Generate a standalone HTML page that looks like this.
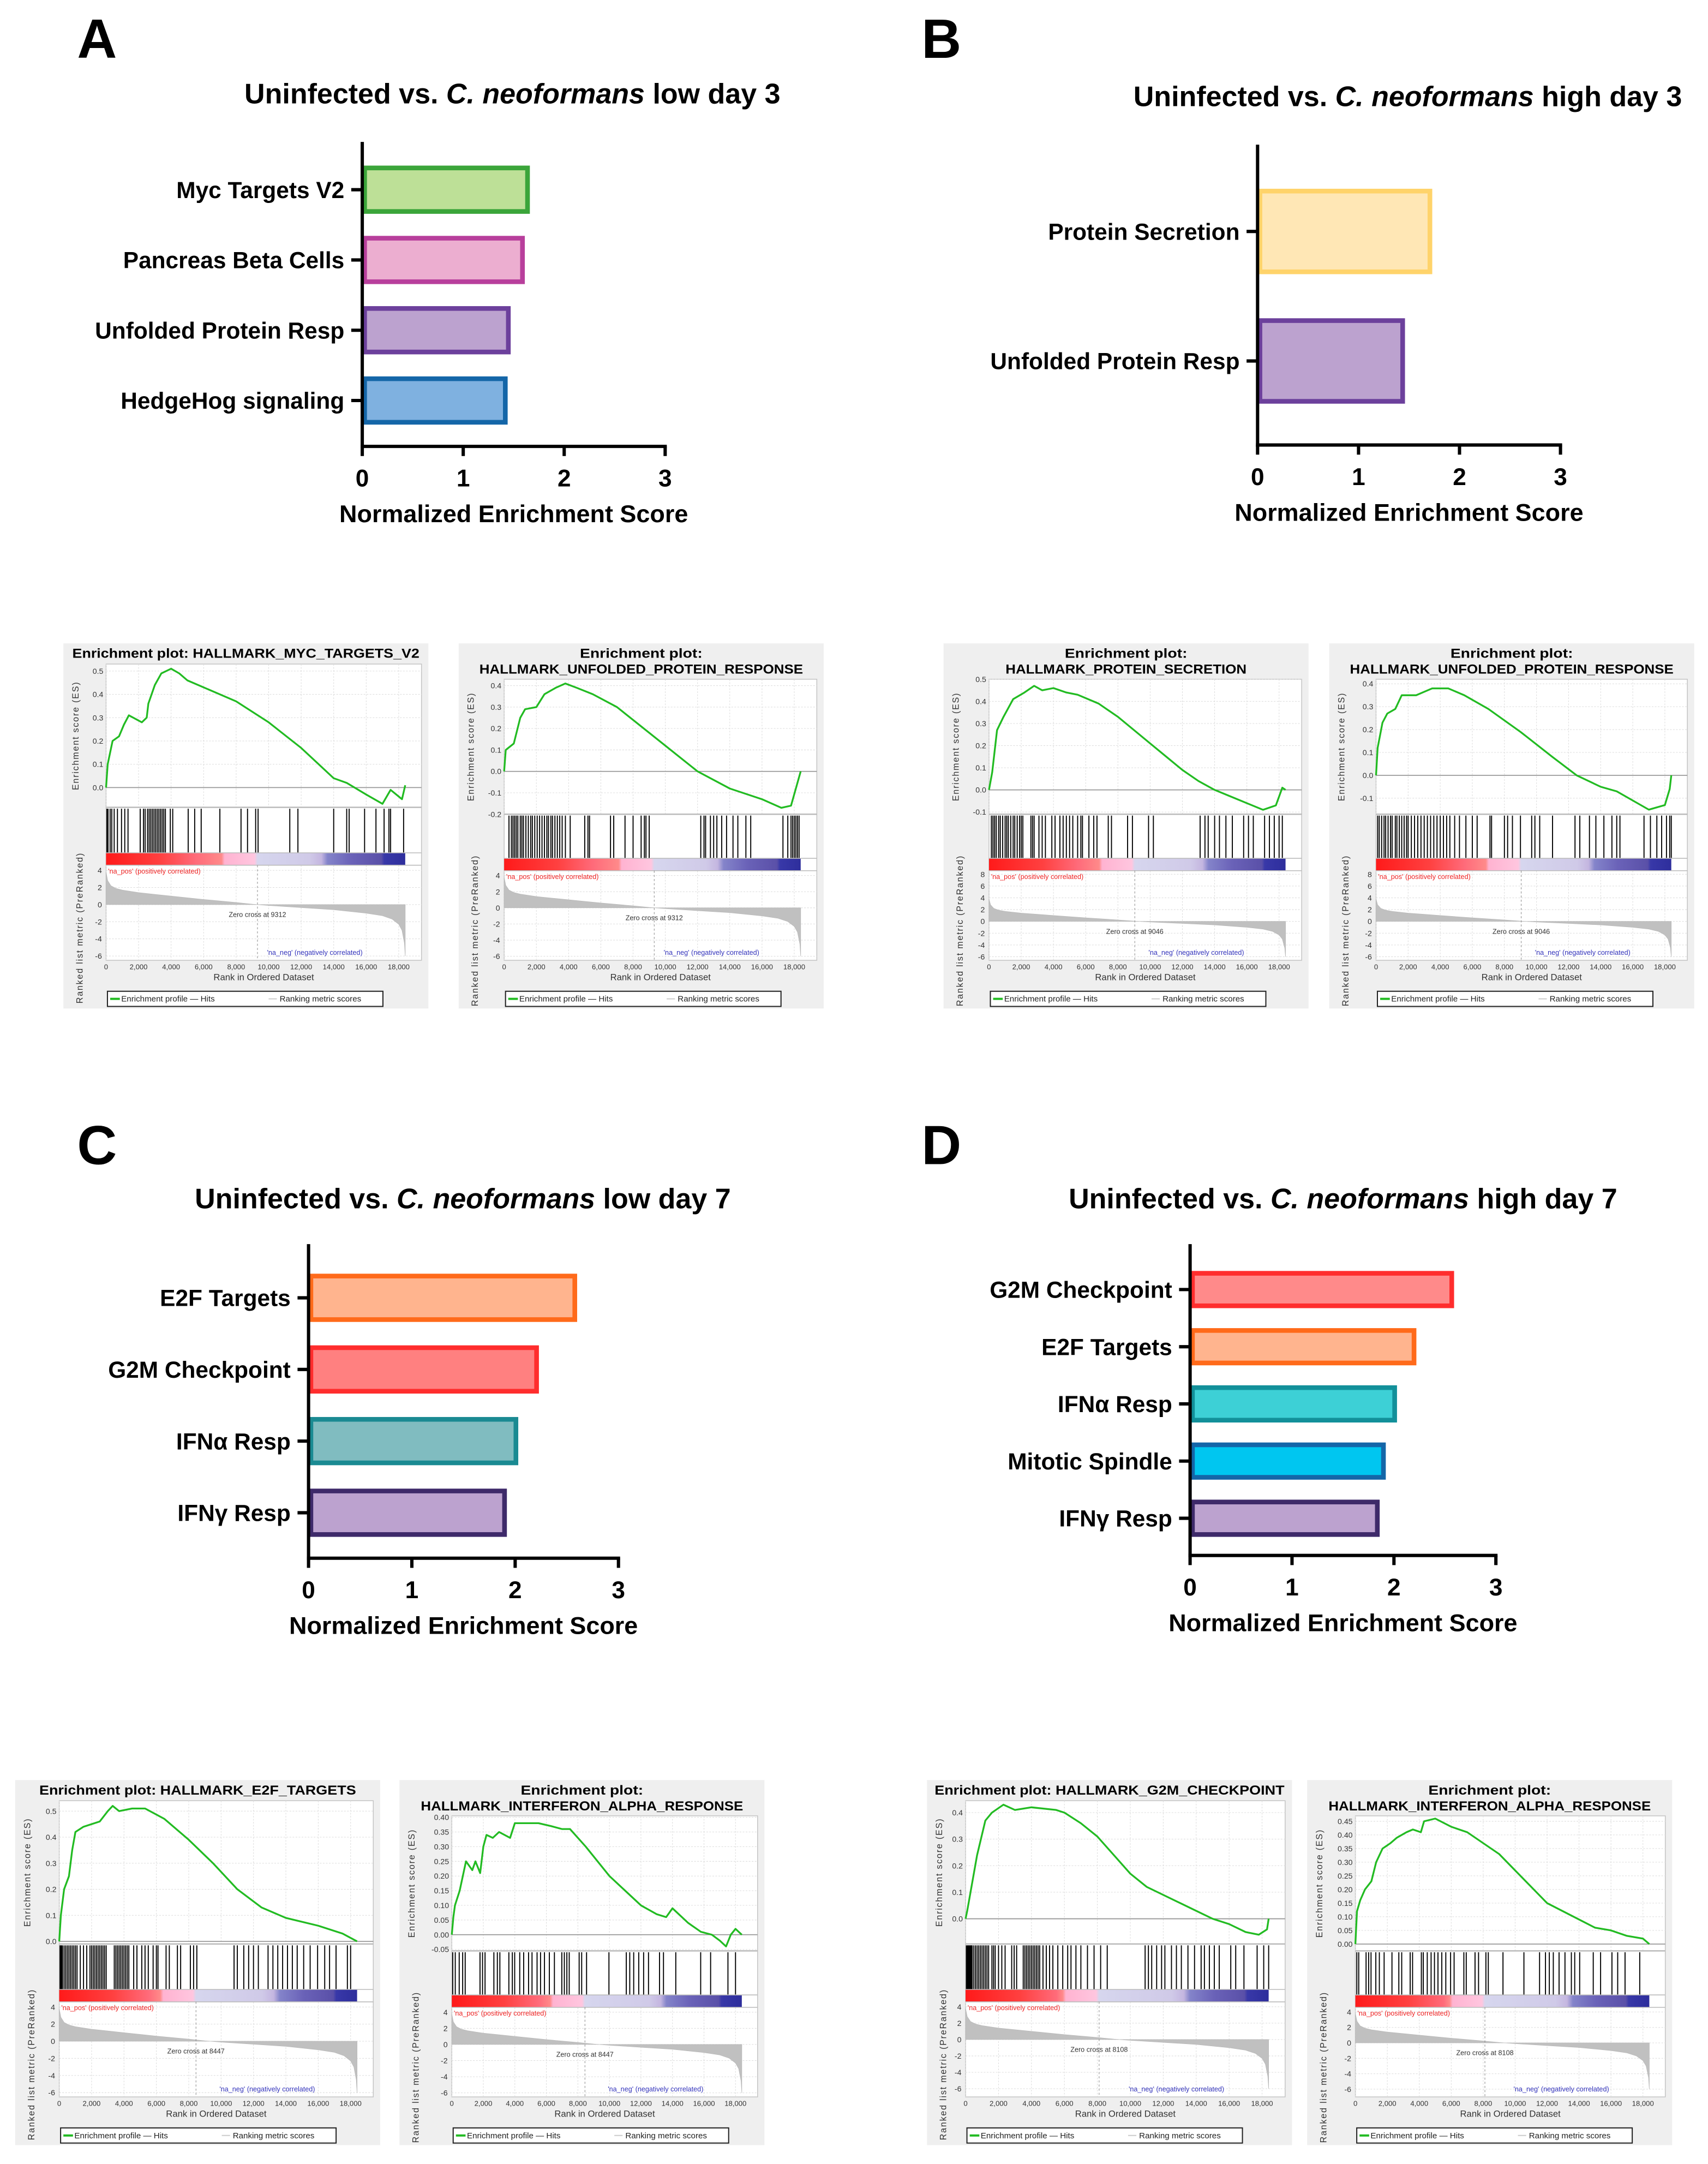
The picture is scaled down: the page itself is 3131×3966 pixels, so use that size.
<!DOCTYPE html>
<html><head><meta charset="utf-8"><style>
html,body{margin:0;padding:0;background:#fff;}
svg{display:block;}
text{font-family:"Liberation Sans",Arial,sans-serif;}
</style></head><body>
<svg id="fig" xmlns="http://www.w3.org/2000/svg" width="3131" height="3966" viewBox="0 0 1240 1570.7">
<rect x="0" y="0" width="1240" height="1571" fill="#fff"/>
</svg>
<script>
// ---------- Bar chart data ----------
const aCats=["Myc Targets V2","Pancreas Beta Cells","Unfolded Protein Resp","HedgeHog signaling"];
const aVals=[1.66,1.61,1.47,1.44];
const aFills=["#bde097","#ecaed0","#bca2cf","#7fb1e0"];
const aStrokes=["#3ba53a","#b83f9c","#6c409c","#1466a8"];
const bCats=["Protein Secretion","Unfolded Protein Resp"];
const bVals=[1.73,1.46];
const bFills=["#ffe7b5","#bca2cf"];
const bStrokes=["#ffd36a","#6c409c"];
const cCats=["E2F Targets","G2M Checkpoint","IFNα Resp","IFNγ Resp"];
const cVals=[2.6,2.23,2.03,1.92];
const cFills=["#ffb48e","#ff8080","#80bcc0","#bca2cf"];
const cStrokes=["#ff6a1a","#ff2d2d","#1a8a92","#3e2a6a"];
const dCats=["G2M Checkpoint","E2F Targets","IFNα Resp","Mitotic Spindle","IFNγ Resp"];
const dVals=[2.59,2.22,2.03,1.92,1.86];
const dFills=["#ff8a8a","#ffb48e","#3dd0d6","#00c6f0","#bca2cf"];
const dStrokes=["#ff2d2d","#ff6a1a","#12909a","#1466a8","#3e2a6a"];
const neTicks=[0,1,2,3];

// ---------- GSEA data ----------
const xTicks=[0,2,4,6,8,10,12,14,16,18];
const xTickLabels=["0","2,000","4,000","6,000","8,000","10,000","12,000","14,000","16,000","18,000"];
const metricR=[0,0.1,0.3,0.6,1,2,3,4,6,8,9,10,12,14,16,17,17.6,18,18.2,18.35,18.4];
const metricV=[3.8,2.8,2.2,1.9,1.7,1.4,1.2,1.0,0.6,0.25,0.05,-0.1,-0.35,-0.6,-1.0,-1.3,-1.7,-2.3,-3.0,-4.5,-6];

const esR_A1=[0,0.1,0.4,0.8,1.1,1.4,2.2,2.5,2.6,3.0,3.4,4.0,4.5,5,6,8,10,12,14,14.8,16,17,17.5,18.2,18.4];
const esV_A1=[0,0.1,0.2,0.22,0.27,0.31,0.28,0.3,0.36,0.44,0.49,0.51,0.49,0.46,0.43,0.37,0.28,0.17,0.04,0.02,-0.03,-0.07,-0.01,-0.05,0.01];
const hits_A1=[0.05,0.12,0.25,0.35,0.5,0.7,0.95,1.15,1.35,2.1,2.3,2.4,2.55,2.65,2.75,2.85,2.95,3.05,3.15,3.25,3.35,3.45,3.55,3.65,3.95,4.1,5.05,5.45,5.85,7.0,8.3,8.7,9.2,9.35,11.3,11.8,14.0,14.8,14.95,15.9,16.6,17.1,17.4,17.5,18.3];

const esR_A2=[0,0.1,0.6,1,1.3,2,2.5,3.2,3.8,4.5,5.5,7,8,10,12,14,16,17.2,17.8,18.4];
const esV_A2=[0,0.1,0.13,0.25,0.29,0.3,0.36,0.39,0.41,0.39,0.36,0.3,0.24,0.12,0.0,-0.08,-0.13,-0.17,-0.16,0.0];
const hits_A2=[0.3,0.45,0.55,0.65,0.75,0.85,1.0,1.1,1.2,1.35,1.5,1.65,1.75,1.9,2.05,2.2,2.35,2.5,2.65,2.75,2.9,3.0,3.15,3.3,3.45,3.6,3.8,4.1,5.0,5.2,5.3,6.6,6.8,7.5,8.0,8.5,8.7,8.8,9.0,12.2,12.4,12.5,12.8,13.0,13.2,13.5,13.8,14.2,14.5,15.0,15.3,17.3,17.6,17.8,17.9,18.0,18.1,18.2,18.3];

const esR_B1=[0,0.2,0.5,0.9,1.5,2.2,2.8,3.3,4,4.8,5.5,6.8,8,9,10,11,12,13,14,15,16,17,17.8,18.2,18.4];
const esV_B1=[0,0.08,0.27,0.33,0.41,0.44,0.47,0.45,0.46,0.44,0.43,0.39,0.33,0.27,0.21,0.15,0.09,0.04,0.0,-0.03,-0.06,-0.09,-0.07,0.01,0.0];
const hits_B1=[0.15,0.25,0.35,0.45,0.6,0.7,0.85,1.0,1.1,1.2,1.35,1.5,1.6,1.75,1.9,2.0,2.1,2.6,2.7,2.8,3.1,3.3,3.5,3.9,4.1,4.4,4.6,4.8,5.0,5.2,5.5,5.7,5.8,6.2,6.5,6.7,7.4,7.6,8.6,8.9,9.9,10.2,13.1,13.4,13.6,14.0,14.3,14.7,15.1,15.8,16.1,16.4,17.1,17.4,17.7,18.0,18.2];

const esR_B2=[0,0.1,0.4,0.7,1.2,1.6,2.5,3.5,4.5,5.5,7,9,11,12.5,14,15,16.5,17,18,18.3,18.4];
const esV_B2=[0,0.12,0.23,0.27,0.29,0.35,0.35,0.38,0.38,0.35,0.29,0.19,0.08,0.0,-0.05,-0.07,-0.13,-0.15,-0.13,-0.06,0.0];
const hits_B2=[0.1,0.2,0.35,0.5,0.6,0.75,0.9,1.0,1.2,1.3,1.45,1.6,1.75,1.9,2.0,2.2,2.4,2.6,2.8,3.0,3.2,3.4,3.6,3.8,4.0,4.2,4.4,4.6,4.9,5.2,5.6,6.0,6.3,7.1,7.2,8.0,8.2,8.5,9.0,9.7,9.9,10.2,11.0,12.4,12.7,13.3,13.7,14.2,14.7,15.0,15.2,16.7,17.1,17.5,17.8,18.1,18.3,18.4];

const esR_C1=[0,0.1,0.3,0.6,0.8,1,1.5,2.5,3,3.3,3.7,4.5,5.3,6.5,8,9.5,11,12.5,14,16,17.5,18.4];
const esV_C1=[0,0.1,0.2,0.25,0.35,0.42,0.44,0.46,0.5,0.52,0.5,0.51,0.51,0.47,0.39,0.3,0.2,0.13,0.09,0.06,0.03,0.0];
const hits_C1=[0.05,0.1,0.15,0.2,0.3,0.4,0.5,0.6,0.7,0.8,0.9,1.0,1.1,1.3,1.5,1.7,1.9,2.0,2.1,2.2,2.3,2.4,2.5,2.6,2.7,2.8,2.9,3.4,3.5,3.6,3.7,3.8,3.9,4.0,4.1,4.2,4.3,4.6,4.8,5.1,5.3,5.5,5.8,6.0,6.1,6.6,6.8,7.3,7.5,8.1,8.3,8.5,10.8,11.0,11.4,11.7,12.0,12.3,12.9,13.2,13.5,13.8,14.1,14.4,14.7,15.1,15.5,15.96,16.4,16.7,17.1,17.8,18.0];

const esR_C2=[0,0.1,0.2,0.5,0.9,1.3,1.5,1.8,2.0,2.2,2.6,3.0,3.7,4.0,4.5,5.5,6.3,7,7.5,8.5,10,11,12,13,13.6,14,15,15.8,16.5,17,17.4,17.7,18,18.4];
const esV_C2=[0,0.06,0.1,0.15,0.25,0.22,0.25,0.21,0.3,0.34,0.33,0.35,0.33,0.38,0.38,0.38,0.37,0.36,0.36,0.3,0.2,0.15,0.1,0.07,0.06,0.09,0.04,0.01,0.0,-0.02,-0.04,0.0,0.02,0.0];
const hits_C2=[0.06,0.22,0.47,0.69,0.85,1.79,1.95,2.11,2.67,2.89,3.05,3.62,3.84,3.99,4.31,4.56,4.87,5.09,5.41,5.63,5.88,6.19,6.51,6.98,7.14,7.3,7.45,8.08,8.24,8.55,9.97,11.07,11.29,11.54,11.86,12.17,12.48,13.18,13.43,14.21,15.79,16.42,17.52,18.0];

const esR_D1=[0,0.1,0.3,0.7,1.2,1.6,2.3,3,4,5.5,6,7,8,9,10,11,12,13,14,15,16,17,17.8,18.3,18.4];
const esV_D1=[0,0.03,0.1,0.24,0.37,0.4,0.43,0.41,0.42,0.41,0.4,0.36,0.31,0.24,0.17,0.12,0.09,0.06,0.03,0.0,-0.02,-0.05,-0.06,-0.04,0.0];
const hits_D1=[0.05,0.1,0.15,0.2,0.25,0.3,0.35,0.4,0.5,0.6,0.7,0.8,0.9,1.0,1.1,1.2,1.3,1.4,1.6,1.7,1.8,2.0,2.2,2.4,2.8,2.95,3.1,3.5,3.6,3.7,3.8,3.9,4.0,4.1,4.2,4.3,4.4,4.5,4.7,4.9,5.1,5.3,5.6,5.9,6.2,6.4,6.7,7.0,7.4,7.8,8.2,8.6,10.9,11.1,11.3,11.6,11.9,12.1,12.5,12.8,13.1,13.5,13.9,14.3,14.5,14.8,15.1,15.4,16.1,16.4,16.9,17.7,18.1,18.4];

const esR_D2=[0,0.1,0.3,0.6,1,1.3,1.7,2.2,2.6,3.2,3.6,4.1,4.3,5,6,7,8,9,10,11,12,13,14,15,16,17,18,18.4];
const esV_D2=[0,0.12,0.16,0.2,0.23,0.3,0.35,0.37,0.39,0.41,0.42,0.41,0.45,0.46,0.43,0.41,0.37,0.33,0.27,0.21,0.15,0.12,0.09,0.06,0.05,0.03,0.02,0.0];
const hits_D2=[0.09,0.21,0.67,0.83,0.98,1.28,1.5,1.8,2.29,2.72,2.9,3.43,3.58,4.13,4.25,4.5,4.74,4.95,5.17,5.41,5.66,5.96,6.18,6.79,6.94,7.49,7.71,8.17,8.32,9.24,10.55,11.53,11.9,12.14,12.39,12.75,13.12,13.52,13.73,14.04,14.89,15.35,16.06,16.42,16.88,17.8];

const NS='http://www.w3.org/2000/svg';
const svg=document.getElementById('fig');
function mk(tag,attrs,parent,name){
  const e=document.createElementNS(NS,tag);
  for(const k in attrs) e.setAttribute(k,attrs[k]);
  
  
  parent.appendChild(e);
  return e;
}
function txt(parent,x,y,s,size,attrs,name){
  const a=Object.assign({x:x,y:y,'font-size':size},attrs||{});
  const t=mk('text',a,parent,name);
  t.textContent=s;
  return t;
}

// ---------- Bar charts ----------
function barChart(id,cfg,cats,vals,fills,strokes){
  const g=mk('g',{},svg,id);
  const xs=v=>cfg.x0+v*cfg.unit;
  for(let i=0;i<cats.length;i++){
    const cy=cfg.c0+i*cfg.step, sw=3.4;
    const bar=mk('rect',{x:xs(0)+sw/2,y:cy-cfg.h/2+sw/2,width:xs(vals[i])-xs(0)-sw,height:cfg.h-sw,fill:fills[i],stroke:strokes[i],'stroke-width':sw},g,'bar');
    
    mk('line',{x1:cfg.x0-8,x2:cfg.x0,y1:cy,y2:cy,stroke:'#000','stroke-width':2.4},g,'y-tick');
    txt(g,cfg.x0-13,cy+6,cats[i],16.8,{'font-weight':'bold','text-anchor':'end'},'category-label');
  }
  mk('line',{x1:cfg.x0,x2:cfg.x0,y1:cfg.yTop,y2:cfg.yBot+1.2,stroke:'#000','stroke-width':2.4},g,'y-axis');
  mk('line',{x1:cfg.x0-1.2,x2:xs(3)+1.2,y1:cfg.yBot,y2:cfg.yBot,stroke:'#000','stroke-width':2.4},g,'x-axis');
  neTicks.forEach(t=>{
    mk('line',{x1:xs(t),x2:xs(t),y1:cfg.yBot,y2:cfg.yBot+7,stroke:'#000','stroke-width':2.4},g,'x-tick');
    txt(g,xs(t),cfg.yBot+29,String(t),17.5,{'font-weight':'bold','text-anchor':'middle'},'x-tick-label');
  });
  txt(g,xs(1.5),cfg.yBot+55,'Normalized Enrichment Score',17.8,{'font-weight':'bold','text-anchor':'middle'},'x-axis-title');
}
function chartTitle(cx,y,cond,name){
  const t=mk('text',{x:cx,y:y,'font-size':20.6,'font-weight':'bold','text-anchor':'middle'},svg,name);
  const s1=document.createElementNS(NS,'tspan'); s1.textContent='Uninfected vs. '; t.appendChild(s1);
  const s2=document.createElementNS(NS,'tspan'); s2.setAttribute('font-style','italic'); s2.textContent='C. neoformans'; t.appendChild(s2);
  const s3=document.createElementNS(NS,'tspan'); s3.textContent=' '+cond; t.appendChild(s3);
}
txt(svg,56,42,'A',40,{'font-weight':'bold'},'panel-label-a');
txt(svg,669,42,'B',40,{'font-weight':'bold'},'panel-label-b');
txt(svg,56,845,'C',40,{'font-weight':'bold'},'panel-label-c');
txt(svg,669,845,'D',40,{'font-weight':'bold'},'panel-label-d');
chartTitle(372,75,'low day 3','chart-title-a');
chartTitle(1022,77,'high day 3','chart-title-b');
chartTitle(336,877,'low day 7','chart-title-c');
chartTitle(975,877,'high day 7','chart-title-d');
barChart('bar-chart-a',{x0:263,unit:73.3,yTop:103,yBot:324,c0:137.7,step:51,h:35},aCats,aVals,aFills,aStrokes);
barChart('bar-chart-b',{x0:913,unit:73.3,yTop:105,yBot:323,c0:168,step:94,h:62},bCats,bVals,bFills,bStrokes);
barChart('bar-chart-c',{x0:224,unit:75,yTop:903,yBot:1131,c0:942,step:52,h:35},cCats,cVals,cFills,cStrokes);
barChart('bar-chart-d',{x0:864,unit:74,yTop:903,yBot:1129,c0:936,step:41.5,h:27},dCats,dVals,dFills,dStrokes);

// ---------- GSEA enrichment plots ----------
let gradId=0;
function gsea(id,p,esR,esV,hits){
  const g=mk('g',{},svg,id);
  const px=p.x,py=p.y,W=265,H=265;
  const L=px+p.L,R=px+260;
  const two=!!p.t2;
  const esTop=py+(two?26:15),esBot=py+(two?124:119),hitsBot=py+(two?156:152),barBot=py+(two?165:161),metBot=py+230;
  const xr=r=>L+r/19.4*(R-L);
  const ye=v=>esBot-(v-p.esMin)/(p.esMax-p.esMin)*(esBot-esTop);
  const ym=v=>metBot-(v-p.mMin)/(p.mMax-p.mMin)*(metBot-barBot);
  mk('rect',{x:px,y:py,width:W,height:H,fill:'#efefef'},g,'panel-background');
  if(two){
    txt(g,px+W/2,py+10.5,'Enrichment plot:',9.6,{'font-weight':'bold','text-anchor':'middle',textLength:89,lengthAdjust:'spacingAndGlyphs'},'plot-title');
    txt(g,px+W/2,py+22,p.t2,9.6,{'font-weight':'bold','text-anchor':'middle',textLength:p.tw,lengthAdjust:'spacingAndGlyphs'},'plot-title');
  } else {
    txt(g,px+W/2,py+10.5,p.t1,9.6,{'font-weight':'bold','text-anchor':'middle',textLength:p.tw,lengthAdjust:'spacingAndGlyphs'},'plot-title');
  }
  mk('rect',{x:L,y:esTop,width:R-L,height:metBot-esTop,fill:'#fff',stroke:'#c4c4c4','stroke-width':0.6},g,'plot-area');
  xTicks.forEach((t,i)=>{
    mk('line',{x1:xr(t),x2:xr(t),y1:esTop,y2:esBot,stroke:'#dcdcdc','stroke-width':0.4,'stroke-dasharray':'1.2,1'},g,'x-grid');
    mk('line',{x1:xr(t),x2:xr(t),y1:barBot,y2:metBot,stroke:'#dcdcdc','stroke-width':0.4,'stroke-dasharray':'1.2,1'},g,'x-grid');
    txt(g,xr(t),metBot+6.5,xTickLabels[i],5.2,{'text-anchor':'middle',fill:'#333'},'x-tick-label');
  });
  p.esTicks.forEach(t=>{
    mk('line',{x1:L,x2:R,y1:ye(t),y2:ye(t),stroke:'#dcdcdc','stroke-width':0.4,'stroke-dasharray':'1.2,1'},g,'y-grid');
    txt(g,L-2,ye(t)+2,t.toFixed(p.dec),5.6,{'text-anchor':'end',fill:'#333'},'es-tick-label');
  });
  p.mTicks.forEach(t=>{
    mk('line',{x1:L,x2:R,y1:ym(t),y2:ym(t),stroke:'#dcdcdc','stroke-width':0.4,'stroke-dasharray':'1.2,1'},g,'y-grid');
    txt(g,L-3,ym(t)+2,String(t),5.6,{'text-anchor':'end',fill:'#333'},'metric-tick-label');
  });
  mk('line',{x1:L,x2:R,y1:ye(0),y2:ye(0),stroke:'#999','stroke-width':0.7},g,'es-zero-line');
  mk('line',{x1:L,x2:R,y1:esBot,y2:esBot,stroke:'#bbb','stroke-width':1},g,'es-bottom-border');
  const pts=esR.map((r,i)=>xr(r).toFixed(2)+','+ye(esV[i]).toFixed(2)).join(' ');
  mk('polyline',{points:pts,fill:'none',stroke:'#22bb22','stroke-width':1.3,'stroke-linejoin':'round'},g,'enrichment-profile');
  hits.forEach(h=>{
    mk('line',{x1:xr(h),x2:xr(h),y1:esBot+1,y2:hitsBot,stroke:'#000','stroke-width':0.75},g,'hit');
  });
  gradId++;
  const gid='cb'+gradId;
  const defs=mk('defs',{},g,'defs');
  const lg=mk('linearGradient',{id:gid,x1:'0',x2:'1',y1:'0',y2:'0'},defs,'colorbar-gradient');
  const zf=p.zero/18400;
  [[0,'#ff1a1a'],[0.18,'#ff4040'],[0.3,'#ff6b7a'],[zf-0.12,'#ff8a8a'],[zf-0.11,'#ffb3d1'],[zf-0.01,'#ffc6df'],[zf,'#d6d6ee'],[0.68,'#d0cae8'],[0.72,'#c4b6e0'],[0.74,'#8484ca'],[0.82,'#6a62b8'],[0.92,'#5a50a8'],[0.93,'#3838a8'],[1,'#2e2e9c']].forEach(s=>{
    mk('stop',{offset:Math.max(0,Math.min(1,s[0])),'stop-color':s[1]},lg,'gradient-stop');
  });
  mk('rect',{x:L,y:hitsBot,width:xr(18.4)-L,height:barBot-hitsBot,fill:'url(#'+gid+')'},g,'color-bar');
  mk('line',{x1:L,x2:R,y1:hitsBot,y2:hitsBot,stroke:'#bbb','stroke-width':0.6},g,'divider');
  mk('line',{x1:L,x2:R,y1:barBot,y2:barBot,stroke:'#bbb','stroke-width':0.6},g,'divider');
  const mp=[xr(0)+','+ym(0)].concat(metricR.map((r,i)=>xr(r).toFixed(2)+','+ym(metricV[i]).toFixed(2))).concat([xr(18.4)+','+ym(0)]).join(' ');
  mk('polygon',{points:mp,fill:'#c0c0c0',stroke:'#b8b8b8','stroke-width':0.3},g,'ranking-metric-scores');
  mk('line',{x1:xr(p.zero/1000),x2:xr(p.zero/1000),y1:barBot,y2:metBot,stroke:'#888','stroke-width':0.4,'stroke-dasharray':'1.5,1.5'},g,'zero-cross-line');
  txt(g,xr(p.zero/1000),ym(0)+9,'Zero cross at '+p.zero,5,{'text-anchor':'middle',fill:'#333'},'zero-cross-label');
  txt(g,L+1.5,barBot+6,"'na_pos' (positively correlated)",5,{fill:'#ee2222'},'na-pos-label');
  txt(g,xr(9.9),metBot-4,"'na_neg' (negatively correlated)",5,{fill:'#3333bb'},'na-neg-label');
  const ec=(esTop+esBot)/2;
  txt(g,px+11,ec,'Enrichment score (ES)',6.4,{'text-anchor':'middle','letter-spacing':0.7,fill:'#333',transform:'rotate(-90 '+(px+11)+' '+ec+')'},'es-axis-title');
  const mc=(barBot+metBot+22)/2;
  txt(g,px+14,mc,'Ranked list metric (PreRanked)',6.4,{'text-anchor':'middle','letter-spacing':0.7,fill:'#333',transform:'rotate(-90 '+(px+14)+' '+mc+')'},'metric-axis-title');
  txt(g,(L+R)/2,metBot+14.5,'Rank in Ordered Dataset',6.6,{'text-anchor':'middle',fill:'#333'},'x-axis-title');
  const lgd=mk('g',{},g,'legend');
  mk('rect',{x:L+1,y:py+252.5,width:200,height:11,fill:'#fff',stroke:'#222','stroke-width':0.8},lgd,'legend-box');
  mk('line',{x1:L+3,x2:L+10,y1:py+258,y2:py+258,stroke:'#22bb22','stroke-width':1.6},lgd,'legend-swatch-enrichment');
  txt(lgd,L+11,py+260,'Enrichment profile — Hits',6,{fill:'#222'},'legend-entry-enrichment');
  mk('line',{x1:L+118,x2:L+124,y1:py+258,y2:py+258,stroke:'#ccc','stroke-width':0.8},lgd,'legend-swatch-metric');
  txt(lgd,L+126,py+260,'Ranking metric scores',6,{fill:'#222'},'legend-entry-metric');
}
const tA=[0,0.1,0.2,0.3,0.4,0.5];
gsea('gsea-a-myc',{x:46,y:467,L:31,t1:'Enrichment plot: HALLMARK_MYC_TARGETS_V2',tw:252,esMin:-0.085,esMax:0.53,esTicks:tA,dec:1,mMin:-6.5,mMax:4.6,mTicks:[4,2,0,-2,-4,-6],zero:9312},esR_A1,esV_A1,hits_A1);
gsea('gsea-a-upr',{x:333,y:467,L:33,t2:'HALLMARK_UNFOLDED_PROTEIN_RESPONSE',tw:235,esMin:-0.2,esMax:0.43,esTicks:[-0.2,-0.1,0,0.1,0.2,0.3,0.4],dec:1,mMin:-6.5,mMax:4.6,mTicks:[4,2,0,-2,-4,-6],zero:9312},esR_A2,esV_A2,hits_A2);
gsea('gsea-b-secretion',{x:685,y:467,L:33,t2:'HALLMARK_PROTEIN_SECRETION',tw:175,esMin:-0.11,esMax:0.5,esTicks:[-0.1,0,0.1,0.2,0.3,0.4,0.5],dec:1,mMin:-6.6,mMax:8.6,mTicks:[8,6,4,2,0,-2,-4,-6],zero:9046},esR_B1,esV_B1,hits_B1);
gsea('gsea-b-upr',{x:965,y:467,L:34,t2:'HALLMARK_UNFOLDED_PROTEIN_RESPONSE',tw:235,esMin:-0.17,esMax:0.42,esTicks:[-0.1,0,0.1,0.2,0.3,0.4],dec:1,mMin:-6.6,mMax:8.6,mTicks:[8,6,4,2,0,-2,-4,-6],zero:9046},esR_B2,esV_B2,hits_B2);
gsea('gsea-c-e2f',{x:11,y:1292,L:32,t1:'Enrichment plot: HALLMARK_E2F_TARGETS',tw:230,esMin:-0.01,esMax:0.54,esTicks:tA,dec:1,mMin:-6.5,mMax:4.6,mTicks:[4,2,0,-2,-4,-6],zero:8447},esR_C1,esV_C1,hits_C1);
gsea('gsea-c-ifna',{x:290,y:1292,L:38,t2:'HALLMARK_INTERFERON_ALPHA_RESPONSE',tw:234,esMin:-0.055,esMax:0.405,esTicks:[-0.05,0,0.05,0.1,0.15,0.2,0.25,0.3,0.35,0.4],dec:2,mMin:-6.5,mMax:4.6,mTicks:[4,2,0,-2,-4,-6],zero:8447},esR_C2,esV_C2,hits_C2);
gsea('gsea-d-g2m',{x:673,y:1292,L:28,t1:'Enrichment plot: HALLMARK_G2M_CHECKPOINT',tw:254,esMin:-0.095,esMax:0.445,esTicks:[0,0.1,0.2,0.3,0.4],dec:1,mMin:-7,mMax:4.6,mTicks:[4,2,0,-2,-4,-6],zero:8108},esR_D1,esV_D1,hits_D1);
gsea('gsea-d-ifna',{x:949,y:1292,L:35,t2:'HALLMARK_INTERFERON_ALPHA_RESPONSE',tw:234,esMin:-0.025,esMax:0.47,esTicks:[0,0.05,0.1,0.15,0.2,0.25,0.3,0.35,0.4,0.45],dec:2,mMin:-7,mMax:4.6,mTicks:[4,2,0,-2,-4,-6],zero:8108},esR_D2,esV_D2,hits_D2);
</script>
</body></html>
